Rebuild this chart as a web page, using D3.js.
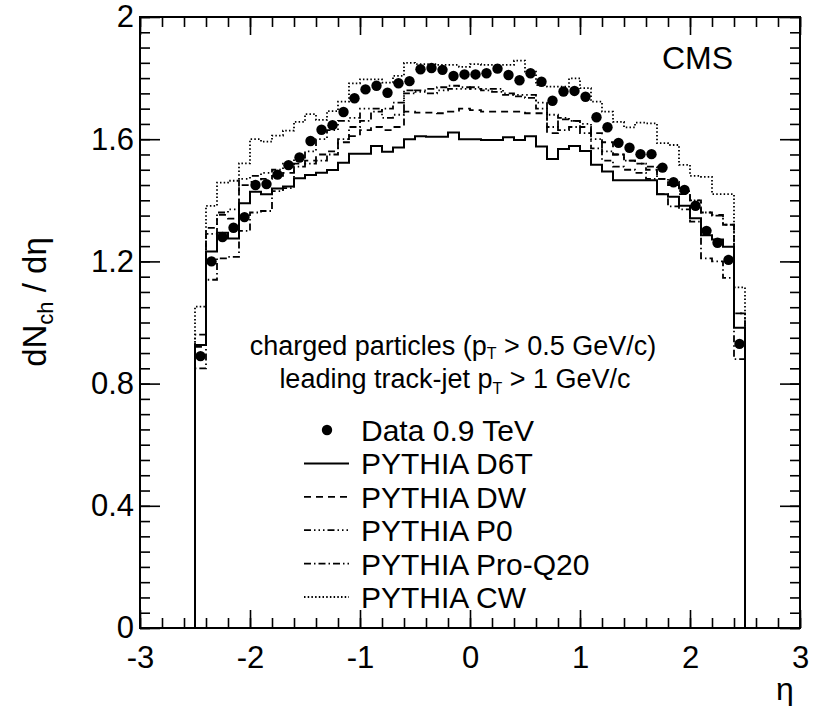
<!DOCTYPE html>
<html>
<head>
<meta charset="utf-8">
<script src="https://cdn.jsdelivr.net/npm/d3@7"></script>
<style>
body { margin: 0; background: #fff; }
svg text { font-family: "Liberation Sans", Arial, Helvetica, sans-serif; fill: #000; }
</style>
</head>
<body>
<svg id="chart" width="819" height="706"></svg>
<script>
// eta bin centres (bin width 0.1, |eta| < 2.5)
const etaCenters = [
    -2.45, -2.35, -2.25, -2.15, -2.05, -1.95, -1.85, -1.75, -1.65, -1.55,
    -1.45, -1.35, -1.25, -1.15, -1.05, -0.95, -0.85, -0.75, -0.65, -0.55,
    -0.45, -0.35, -0.25, -0.15, -0.05, 0.05, 0.15, 0.25, 0.35, 0.45,
    0.55, 0.65, 0.75, 0.85, 0.95, 1.05, 1.15, 1.25, 1.35, 1.45,
    1.55, 1.65, 1.75, 1.85, 1.95, 2.05, 2.15, 2.25, 2.35, 2.45
];

const dataValues = [
    0.89, 1.20, 1.28, 1.31, 1.345, 1.45, 1.453, 1.484, 1.515, 1.54,
    1.594, 1.631, 1.646, 1.689, 1.734, 1.763, 1.775, 1.752, 1.783, 1.79,
    1.829, 1.833, 1.827, 1.807, 1.812, 1.812, 1.816, 1.831, 1.81, 1.793,
    1.816, 1.788, 1.726, 1.756, 1.758, 1.739, 1.672, 1.639, 1.588, 1.572,
    1.551, 1.551, 1.507, 1.459, 1.434, 1.382, 1.30, 1.261, 1.205, 0.93
];

const d6t = [
    0.926, 1.232, 1.294, 1.275, 1.39, 1.428, 1.42, 1.439, 1.445, 1.472,
    1.483, 1.49, 1.499, 1.523, 1.552, 1.552, 1.578, 1.559, 1.573, 1.60,
    1.61, 1.608, 1.608, 1.622, 1.60, 1.60, 1.597, 1.597, 1.606, 1.597,
    1.61, 1.576, 1.535, 1.568, 1.578, 1.561, 1.516, 1.494, 1.466, 1.466,
    1.466, 1.466, 1.42, 1.412, 1.382, 1.341, 1.286, 1.272, 1.248, 0.983
];

const dw = [
    0.92, 1.31, 1.352, 1.34, 1.45, 1.46, 1.47, 1.48, 1.49, 1.52,
    1.53, 1.55, 1.56, 1.59, 1.61, 1.63, 1.64, 1.63, 1.64, 1.69,
    1.687, 1.687, 1.685, 1.69, 1.70, 1.695, 1.69, 1.69, 1.69, 1.69,
    1.685, 1.685, 1.62, 1.665, 1.66, 1.64, 1.62, 1.59, 1.55, 1.53,
    1.52, 1.50, 1.47, 1.45, 1.42, 1.40, 1.36, 1.352, 1.32, 1.03
];

const p0 = [
    0.96, 1.29, 1.36, 1.37, 1.47, 1.48, 1.49, 1.50, 1.52, 1.54,
    1.56, 1.60, 1.63, 1.66, 1.67, 1.70, 1.70, 1.67, 1.68, 1.76,
    1.755, 1.75, 1.76, 1.765, 1.765, 1.77, 1.765, 1.765, 1.75, 1.745,
    1.745, 1.72, 1.68, 1.67, 1.66, 1.65, 1.60, 1.56, 1.55, 1.53,
    1.52, 1.51, 1.47, 1.46, 1.43, 1.40, 1.36, 1.35, 1.32, 1.03
];

const proQ20 = [
    0.85, 1.14, 1.21, 1.215, 1.30, 1.36, 1.365, 1.43, 1.44, 1.51,
    1.52, 1.53, 1.55, 1.60, 1.64, 1.66, 1.69, 1.70, 1.72, 1.75,
    1.76, 1.765, 1.77, 1.775, 1.77, 1.765, 1.76, 1.755, 1.745, 1.74,
    1.735, 1.70, 1.64, 1.63, 1.64, 1.62, 1.57, 1.53, 1.51, 1.50,
    1.49, 1.47, 1.42, 1.38, 1.37, 1.33, 1.21, 1.20, 1.146, 0.88
];

const cw = [
    1.052, 1.382, 1.458, 1.464, 1.521, 1.60, 1.592, 1.612, 1.628, 1.657,
    1.682, 1.663, 1.692, 1.723, 1.783, 1.796, 1.796, 1.785, 1.807, 1.85,
    1.846, 1.846, 1.843, 1.843, 1.837, 1.846, 1.843, 1.843, 1.843, 1.857,
    1.821, 1.777, 1.772, 1.772, 1.799, 1.767, 1.723, 1.69, 1.657, 1.639,
    1.654, 1.652, 1.587, 1.581, 1.516, 1.48, 1.477, 1.42, 1.42, 1.115
];

const xTicks = [-3, -2, -1, 0, 1, 2, 3];
const yTicks = [0, 0.4, 0.8, 1.2, 1.6, 2];

const mcSeries = [
    { name: 'PYTHIA D6T', values: d6t, dash: null, width: 2 },
    { name: 'PYTHIA DW', values: dw, dash: '7,5', width: 1.8 },
    { name: 'PYTHIA P0', values: p0, dash: '7,3,1.5,3,1.5,3,1.5,3', width: 1.8 },
    { name: 'PYTHIA Pro-Q20', values: proQ20, dash: '7,3,1.5,3', width: 1.8 },
    { name: 'PYTHIA CW', values: cw, dash: '1.5,2.2', width: 1.8 }
];

(function () {
    const svg = d3.select('#chart');
    const mLeft = 140, mRight = 800, mTop = 17, mBottom = 628;
    const binHalf = 0.05;

    const x = d3.scaleLinear().domain([-3, 3]).range([mLeft, mRight]);
    const y = d3.scaleLinear().domain([0, 2]).range([mBottom, mTop]);

    /*
     * Axes, ROOT style: ticks inside the frame on all four sides
     */

    function styleAxis(g) {
        g.select('.domain').remove();
        g.selectAll('.tick line').attr('stroke', '#000').attr('stroke-width', 1.6);
        g.attr('font-family', null).attr('font-size', null);
    }

    svg.append('g')
        .attr('transform', `translate(0,${mBottom})`)
        .call(d3.axisBottom(x).ticks(30).tickSize(-10).tickSizeOuter(0).tickFormat(''))
        .call(styleAxis);
    svg.append('g')
        .attr('transform', `translate(0,${mBottom})`)
        .call(d3.axisBottom(x).tickValues(xTicks).tickSize(-18).tickSizeOuter(0)
            .tickPadding(17).tickFormat(d => String(d)))
        .call(styleAxis)
        .selectAll('text').style('font-size', '31px').attr('dy', '0.75em');
    svg.append('g')
        .attr('transform', `translate(0,${mTop})`)
        .call(d3.axisTop(x).ticks(30).tickSize(-10).tickSizeOuter(0).tickFormat(''))
        .call(styleAxis);
    svg.append('g')
        .attr('transform', `translate(0,${mTop})`)
        .call(d3.axisTop(x).tickValues(xTicks).tickSize(-18).tickSizeOuter(0).tickFormat(''))
        .call(styleAxis);

    svg.append('g')
        .attr('transform', `translate(${mLeft},0)`)
        .call(d3.axisLeft(y).ticks(40).tickSize(-10).tickSizeOuter(0).tickFormat(''))
        .call(styleAxis);
    svg.append('g')
        .attr('transform', `translate(${mLeft},0)`)
        .call(d3.axisLeft(y).tickValues(yTicks).tickSize(-20).tickSizeOuter(0)
            .tickPadding(6).tickFormat(d => String(+d.toFixed(1))))
        .call(styleAxis)
        .selectAll('text').style('font-size', '31px');
    svg.append('g')
        .attr('transform', `translate(${mRight},0)`)
        .call(d3.axisRight(y).ticks(40).tickSize(-10).tickSizeOuter(0).tickFormat(''))
        .call(styleAxis);
    svg.append('g')
        .attr('transform', `translate(${mRight},0)`)
        .call(d3.axisRight(y).tickValues(yTicks).tickSize(-20).tickSizeOuter(0).tickFormat(''))
        .call(styleAxis);

    /*
     * Histograms
     */

    const histLine = d3.line()
        .x(d => x(d[0]))
        .y(d => y(d[1]))
        .curve(d3.curveStepAfter);

    function histPoints(values) {
        const pts = [[-3, 0]];
        values.forEach((v, i) => pts.push([etaCenters[i] - binHalf, v]));
        const last = etaCenters[etaCenters.length - 1] + binHalf;
        pts.push([last, 0]);
        pts.push([3, 0]);
        return pts;
    }

    const plot = svg.append('g');

    plot.selectAll('path.mc')
        .data(mcSeries.slice().reverse())
        .enter().append('path')
        .attr('class', 'mc')
        .attr('d', d => histLine(histPoints(d.values)))
        .attr('fill', 'none')
        .attr('stroke', '#000')
        .attr('stroke-width', d => d.width)
        .attr('stroke-dasharray', d => d.dash);

    plot.selectAll('circle.data')
        .data(dataValues)
        .enter().append('circle')
        .attr('class', 'data')
        .attr('cx', (d, i) => x(etaCenters[i]))
        .attr('cy', d => y(d))
        .attr('r', 5.2)
        .attr('fill', '#000');

    // frame
    svg.append('rect')
        .attr('x', mLeft).attr('y', mTop)
        .attr('width', mRight - mLeft).attr('height', mBottom - mTop)
        .attr('fill', 'none').attr('stroke', '#000').attr('stroke-width', 2);

    /*
     * Labels
     */

    svg.append('text')
        .attr('x', 662).attr('y', 69)
        .style('font-size', '32px')
        .text('CMS');

    const t1 = svg.append('text')
        .attr('x', 453).attr('y', 355)
        .attr('text-anchor', 'middle')
        .style('font-size', '27px');
    t1.append('tspan').text('charged particles (p');
    t1.append('tspan').attr('dy', 4).style('font-size', '16px').text('T');
    t1.append('tspan').attr('dy', -4).text(' > 0.5 GeV/c)');

    const t2 = svg.append('text')
        .attr('x', 455).attr('y', 388)
        .attr('text-anchor', 'middle')
        .style('font-size', '27px');
    t2.append('tspan').text('leading track-jet p');
    t2.append('tspan').attr('dy', 6).style('font-size', '16px').text('T');
    t2.append('tspan').attr('dy', -6).text(' > 1 GeV/c');

    // legend
    const legend = svg.append('g');
    const rowY = 430, rowStep = 33.4;
    legend.append('circle')
        .attr('cx', 327).attr('cy', rowY).attr('r', 5.2).attr('fill', '#000');
    legend.append('text')
        .attr('x', 361).attr('y', rowY + 11)
        .style('font-size', '30px')
        .text('Data 0.9 TeV');

    const rows = legend.selectAll('g.row')
        .data(mcSeries)
        .enter().append('g')
        .attr('class', 'row')
        .attr('transform', (d, i) => `translate(0,${rowY + (i + 1) * rowStep})`);
    rows.append('line')
        .attr('x1', 304).attr('x2', 349)
        .attr('stroke', '#000')
        .attr('stroke-width', d => d.width)
        .attr('stroke-dasharray', d => d.dash);
    rows.append('text')
        .attr('x', 361).attr('y', 11)
        .style('font-size', '30px')
        .text(d => d.name);

    // axis titles
    svg.append('text')
        .attr('x', 785).attr('y', 700)
        .attr('text-anchor', 'middle')
        .style('font-size', '32px')
        .text('η');

    const yt = svg.append('text')
        .attr('transform', 'translate(46,302) rotate(-90)')
        .attr('text-anchor', 'middle')
        .style('font-size', '33px');
    yt.append('tspan').text('dN');
    yt.append('tspan').attr('dy', 7).style('font-size', '22px').text('ch');
    yt.append('tspan').attr('dy', -7).text(' / dη');
}());
</script>
</body>
</html>
